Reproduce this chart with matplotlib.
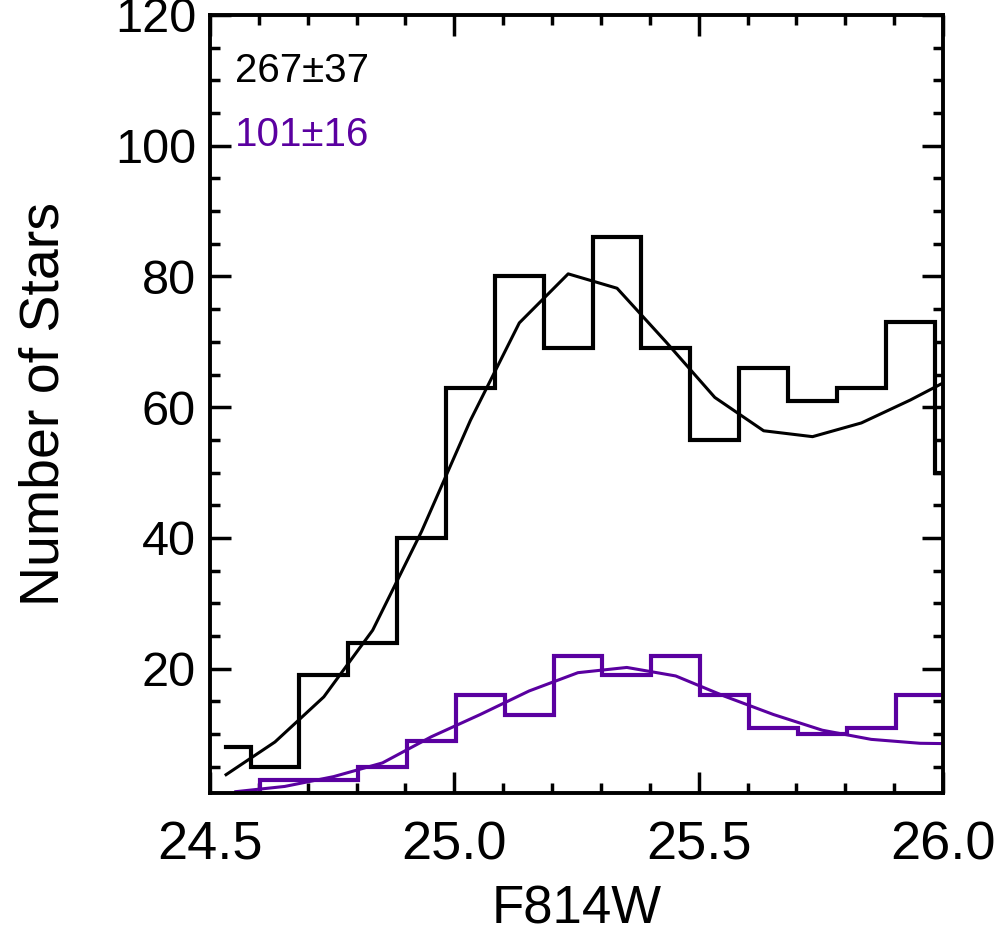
import matplotlib
matplotlib.use("Agg")
import matplotlib.pyplot as plt
from matplotlib.ticker import MultipleLocator, FormatStrFormatter

plt.rcParams['font.family'] = ['Liberation Sans', 'DejaVu Sans']

# Black histogram (bin centres and counts)
black_x = [24.533, 24.633, 24.733, 24.833, 24.933, 25.033, 25.133, 25.233,
           25.333, 25.433, 25.533, 25.633, 25.733, 25.833, 25.933, 26.033]
black_counts = [8, 5, 19, 24, 40, 63, 80, 69, 86, 69, 55, 66, 61, 63, 73, 50]
black_model = [3.8, 8.8, 15.7, 25.9, 41.0, 58.0, 72.9, 80.4, 78.2, 70.0,
               61.5, 56.4, 55.5, 57.6, 61.1, 65.0]

# Purple histogram
purple_x = [24.553, 24.653, 24.753, 24.853, 24.953, 25.053, 25.153, 25.253,
            25.353, 25.453, 25.553, 25.653, 25.753, 25.853, 25.953, 26.053]
purple_counts = [1, 3, 3, 5, 9, 16, 13, 22, 19, 22, 16, 11, 10, 11, 16, 16]
purple_model = [1.2, 2.0, 3.5, 5.6, 9.6, 13.0, 16.6, 19.4, 20.2, 18.9,
                15.8, 13.0, 10.6, 9.2, 8.6, 8.5]

label_black = "267\u00b137"
label_purple = "101\u00b116"

PURPLE = '#5A00A0'

fig = plt.figure(figsize=(10.06, 9.35), dpi=100)
ax = fig.add_axes([0.2087, 0.1519, 0.7287, 0.8321])

ax.step(black_x, black_counts, where='mid', color='black', lw=3.0,
        solid_joinstyle='miter')
ax.plot(black_x, black_model, color='black', lw=2.2)
ax.step(purple_x, purple_counts, where='mid', color=PURPLE, lw=3.0,
        solid_joinstyle='miter')
ax.plot(purple_x, purple_model, color=PURPLE, lw=2.2)

ax.set_xlim(24.5, 26.0)
ax.set_ylim(1, 120)

ax.xaxis.set_major_locator(MultipleLocator(0.5))
ax.xaxis.set_minor_locator(MultipleLocator(0.1))
ax.yaxis.set_major_locator(MultipleLocator(20))
ax.yaxis.set_minor_locator(MultipleLocator(5))
ax.xaxis.set_major_formatter(FormatStrFormatter('%.1f'))

ax.tick_params(which='both', direction='in', top=True, right=True,
               width=2.5, colors='black')
ax.tick_params(which='major', length=15)
ax.tick_params(which='minor', length=7.5)
ax.tick_params(axis='x', which='major', labelsize=39, pad=20)
ax.tick_params(axis='y', which='major', labelsize=35, pad=10)

for s in ax.spines.values():
    s.set_linewidth(2.8)

ax.set_xlabel('F814W', fontsize=38, labelpad=10)
ax.set_ylabel('Number of Stars', fontsize=40, labelpad=32)

ax.text(24.551, 109.7, label_black, fontsize=29, color='black', va='baseline', ha='left')
ax.text(24.551, 99.9, label_purple, fontsize=29, color=PURPLE, va='baseline', ha='left')

fig.canvas.draw()
for t in ax.yaxis.get_major_ticks():
    t.label1.set_verticalalignment('center_baseline')

fig.savefig('out.png', dpi=100)
